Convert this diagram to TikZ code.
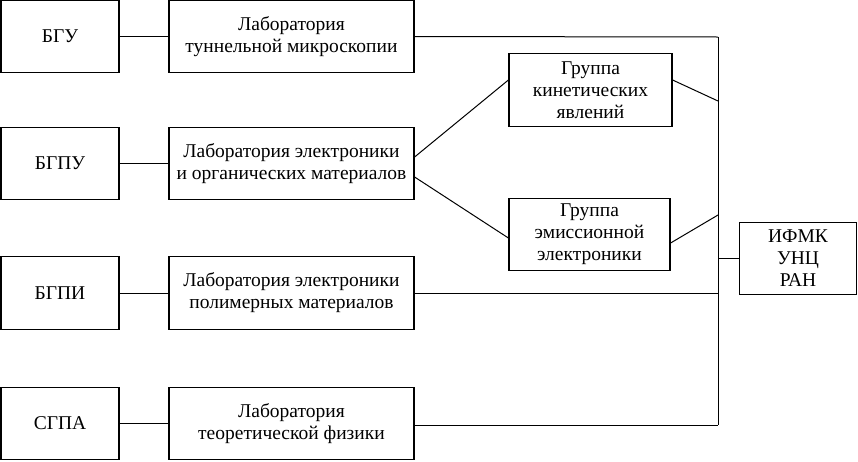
\documentclass[tikz,border=0pt]{standalone}
\usepackage{fontspec}
\setmainfont{Liberation Serif}
\newfontfamily\tnr{Liberation Serif}
\usetikzlibrary{calc}
\begin{document}
\begin{tikzpicture}[x=1pt,y=-1pt,
  box/.style={draw,line width=1.2pt,inner sep=0pt,align=center,
    font=\tnr\fontsize{19.5}{22}\selectfont},
  conn/.style={line width=1pt}]
\useasboundingbox (0,0) rectangle (858,461);
% left boxes
\node[box,minimum width=118pt,minimum height=72pt] (b1) at (60,36.5) {БГУ};
\node[box,minimum width=118pt,minimum height=72pt] (b2) at (60,163.5) {БГПУ};
\node[box,minimum width=118pt,minimum height=73pt] (b3) at (60,293) {БГПИ};
\node[box,minimum width=118pt,minimum height=72pt] (b4) at (60,423.5) {СГПА};
% middle boxes
\node[box,minimum width=245pt,minimum height=72pt] (m1) at (291.5,36.5) {Лаборатория\\туннельной микроскопии};
\node[box,minimum width=245pt,minimum height=72pt] (m2) at (291.5,163.5) {Лаборатория электроники\\и органических материалов};
\node[box,minimum width=245pt,minimum height=73pt] (m3) at (291.5,293) {Лаборатория электроники\\полимерных материалов};
\node[box,minimum width=245pt,minimum height=72pt] (m4) at (291.5,423.5) {Лаборатория\\теоретической физики};
% groups
\node[box,minimum width=163pt,minimum height=73pt] (g1) at (590.5,90) {Группа\\кинетических\\явлений};
\node[box,minimum width=161pt,minimum height=72pt] (g2) at (589.5,234.5) {Группа\\эмиссионной\\электроники};
% right box
\node[box,minimum width=117pt,minimum height=72pt] (r) at (798,258.5) {ИФМК\\УНЦ\\РАН};
% bus coordinates
\coordinate (bt) at (718,37);
\coordinate (bb) at (718,425);
\coordinate (bk) at (718,101);
\coordinate (be) at (718,215);
% connectors
\draw[conn] (b1) -- (m1);
\draw[conn] (b2) -- (m2);
\draw[conn] (b3) -- (m3);
\draw[conn] (b4) -- (m4);
\draw[conn] (m1.east) -- (bt);
\draw[conn] (bt) -- (bb);
\draw[conn] (m3.east) -- (m3.east -| bb);
\draw[conn] (m4.east |- bb) -- (bb);
\draw[conn] ($(m2.east)+(0,-6.5)$) -- ($(g1.west)+(0,-10)$);
\draw[conn] ($(m2.east)+(0,13.5)$) -- ($(g2.west)+(0,3.5)$);
\draw[conn] ($(g1.east)+(0,-10)$) -- (bk);
\draw[conn] ($(g2.east)+(0,8.5)$) -- (be);
\draw[conn] (r.west) -- (r.west -| bb);
\end{tikzpicture}
\end{document}
